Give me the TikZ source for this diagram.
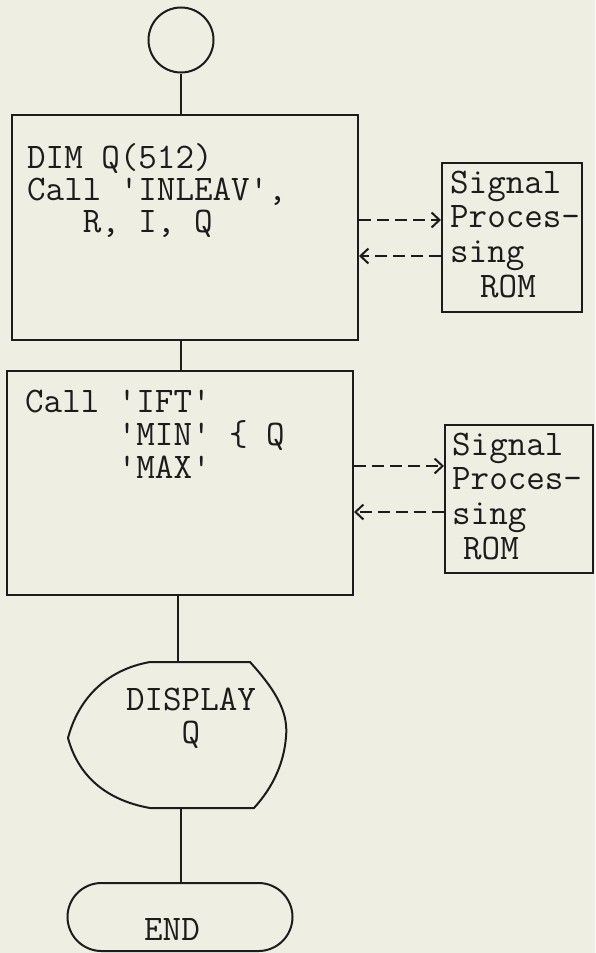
\documentclass[tikz,border=0pt]{standalone}
\usepackage{fontspec}
\usetikzlibrary{arrows.meta,shapes.misc}
\definecolor{paper}{RGB}{238,238,226}
\definecolor{ink}{RGB}{28,28,28}
\newcommand\tlines[2]{\vtop{\baselineskip=#1\relax\lineskiplimit=-\maxdimen\lineskip=0pt\halign{##\hfil\cr#2\crcr}}}
\newcommand\clines[2]{\vtop{\baselineskip=#1\relax\lineskiplimit=-\maxdimen\lineskip=0pt\halign{\hfil##\hfil\cr#2\crcr}}}
\begin{document}
\begin{tikzpicture}[x=1pt,y=-1pt,
  outl/.style={draw=ink, line width=2pt},
  procbox/.style={outl, rectangle, inner sep=0pt},
  conn/.style={ink, line width=2pt},
  txt/.style={font=\ttfamily\fontsize{36pt}{33pt}\selectfont, text=ink, inner sep=0pt, anchor=base west},
  darrow/.style={ink, line width=2.2pt, dash pattern=on 12pt off 6pt,
    -{Straight Barb[length=8pt,width=15pt,line width=2pt]}},
  endbox/.style={outl, rounded rectangle, inner sep=0pt, minimum width=225pt, minimum height=68pt}
]
\fill[paper] (0,0) rectangle (595,953);
\useasboundingbox (0,0) rectangle (595,953);

% start circle
\node[outl, circle, inner sep=0pt, minimum size=65pt] (start) at (181,40) {};

% first process box
\node[procbox, minimum width=346pt, minimum height=225pt] (box1) at (185,227.5) {};
\node[txt] (t1) at (27,168) {\tlines{32pt}{DIM Q(512)\cr Call 'INLEAV',\cr\hphantom{000}R, I, Q}};

% ROM box 1
\node[procbox, minimum width=140pt, minimum height=149pt] (sig1) at (512,237.5) {};
\node[txt] (s1) at (450,193) {\tlines{34.7pt}{Signal\cr Proces-\cr sing\cr\hspace*{30pt}ROM}};

% second process box
\node[procbox, minimum width=346pt, minimum height=224pt] (box2) at (180,483) {};
\node[txt] (t2) at (25,412) {\tlines{33pt}{Call 'IFT'\cr\hphantom{00000}'MIN' \{ Q\cr\hphantom{00000}'MAX'}};

% ROM box 2
\node[procbox, minimum width=148pt, minimum height=148pt] (sig2) at (519,499) {};
\node[txt] (s2) at (452,455) {\tlines{34.7pt}{Signal\cr Proces-\cr sing\cr\hspace*{11pt}ROM}};

% display symbol
\coordinate (disptop) at (178,662);
\coordinate (dispbot) at (181,808);
\draw[outl] (150,662) -- (250,662)
  .. controls (280,695) and (288,715) .. (286,737)
  .. controls (284,762) and (274,786) .. (254,808)
  -- (150,808)
  .. controls (105,800) and (78,775) .. (68,738)
  .. controls (78,700) and (105,670) .. (150,662) -- cycle;
\node[txt, anchor=base] (dtxt) at (191,710) {\clines{33pt}{DISPLAY\cr Q}};

% end terminator
\node[endbox] (end) at (180,917) {};
\node[txt, anchor=base] (etxt) at (172,940) {END};

% connectors
\draw[conn] (start.south) -- (start.south |- box1.north);
\draw[conn] (box1.south -| start) -- (box2.north -| start);
\draw[conn] (box2.south -| disptop) -- (disptop);
\draw[conn] (dispbot) -- (end.north -| dispbot);

% dashed data arrows
\draw[darrow] (box1.east |- 0,220) -- (sig1.west |- 0,220);
\draw[darrow] (sig1.west |- 0,256) -- (box1.east |- 0,256);
\draw[darrow] (box2.east |- 0,466) -- (sig2.west |- 0,466);
\draw[darrow] (sig2.west |- 0,512) -- (box2.east |- 0,512);
\end{tikzpicture}
\end{document}
